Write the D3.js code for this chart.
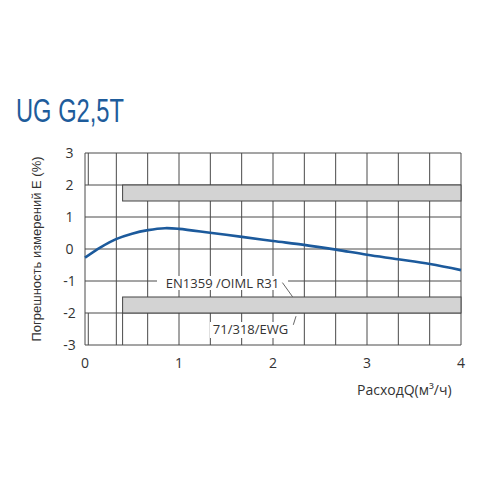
<!DOCTYPE html>
<html>
<head>
<meta charset="utf-8">
<script src="https://cdn.jsdelivr.net/npm/d3@7"></script>
<style>
  body { margin: 0; background: #fff; }
  text { font-family: "Open Sans", "DejaVu Sans", sans-serif; }
</style>
</head>
<body>
<div id="plot"></div>
<script>
// measured error curve of the meter
var flowQ = [0, 0.17, 0.33, 0.5, 0.67, 0.85, 1.0, 1.33, 1.67, 2.0, 2.33, 2.67, 3.0, 3.33, 3.67, 4.0];
var errorE = [-0.27, 0.06, 0.31, 0.48, 0.59, 0.65, 0.63, 0.51, 0.38, 0.25, 0.13, -0.02, -0.18, -0.32, -0.47, -0.66];

// axis ticks
var xTicks = [0, 1, 2, 3, 4];
var yTicks = [3, 2, 1, 0, -1, -2, -3];

// limits (tolerance bands)
var qMin = 0.035;
var qBand = 0.4;
var bandUpper = [1.5, 2];
var bandLower = [-2, -1.5];

var width = 500, height = 500;

var svg = d3.select("#plot").append("svg")
    .attr("width", width)
    .attr("height", height);

var x = d3.scaleLinear().domain([0, 4]).range([85, 461]);
var y = d3.scaleLinear().domain([-3, 3]).range([345, 153]);

var gridColor = "#4a4a4a";

// title
svg.append("text")
    .attr("x", 16)
    .attr("y", 121.5)
    .attr("font-size", 33)
    .style("font-family", "'Liberation Sans Narrow', 'Liberation Sans', sans-serif")
    .attr("textLength", 108)
    .attr("lengthAdjust", "spacingAndGlyphs")
    .attr("fill", "#1e5c9b")
    .text("UG G2,5T");

// vertical grid every 1/3
var gridQ = d3.range(0, 13).map(function(i) { return i / 3; });
svg.selectAll(".vgrid")
    .data(gridQ)
    .enter().append("line")
    .attr("class", "vgrid")
    .attr("x1", function(d) { return x(d); })
    .attr("x2", function(d) { return x(d); })
    .attr("y1", y(3))
    .attr("y2", y(-3))
    .attr("stroke", gridColor)
    .attr("stroke-width", 1);

// horizontal grid
svg.selectAll(".hgrid")
    .data(yTicks)
    .enter().append("line")
    .attr("class", "hgrid")
    .attr("x1", x(0))
    .attr("x2", x(4))
    .attr("y1", function(d) { return y(d); })
    .attr("y2", function(d) { return y(d); })
    .attr("stroke", gridColor)
    .attr("stroke-width", 1);

// Qmin lines
svg.append("line")
    .attr("x1", x(qMin)).attr("x2", x(qMin))
    .attr("y1", y(3)).attr("y2", y(2))
    .attr("stroke", gridColor);
svg.append("line")
    .attr("x1", x(qMin)).attr("x2", x(qMin))
    .attr("y1", y(-2)).attr("y2", y(-3))
    .attr("stroke", gridColor);
svg.append("line")
    .attr("x1", x(qBand)).attr("x2", x(qBand))
    .attr("y1", y(-2)).attr("y2", y(-3))
    .attr("stroke", gridColor);

// tolerance bands
[bandUpper, bandLower].forEach(function(b) {
    svg.append("rect")
        .attr("x", x(qBand))
        .attr("y", y(b[1]))
        .attr("width", x(4) - x(qBand))
        .attr("height", y(b[0]) - y(b[1]))
        .attr("fill", "#d3d3d3")
        .attr("stroke", "#444")
        .attr("stroke-width", 1);
});

// labels with white backing
svg.append("rect")
    .attr("x", 157).attr("y", 276)
    .attr("width", x(2.16) - 157).attr("height", 14)
    .attr("fill", "#fff");
svg.append("text")
    .attr("x", x(0.86))
    .attr("y", y(-1.23))
    .attr("font-size", 13)
    .attr("fill", "#333")
    .text("EN1359 /OIML R31");

svg.append("rect")
    .attr("x", 210).attr("y", 322)
    .attr("width", 80).attr("height", 16)
    .attr("fill", "#fff");
svg.append("text")
    .attr("x", x(1.36))
    .attr("y", y(-2.66))
    .attr("font-size", 13)
    .attr("fill", "#333")
    .text("71/318/EWG");

// leaders
svg.append("line")
    .attr("x1", x(2.10)).attr("y1", y(-1.05))
    .attr("x2", x(2.21)).attr("y2", y(-1.5))
    .attr("stroke", "#666");
svg.append("line")
    .attr("x1", x(2.216)).attr("y1", y(-2.37))
    .attr("x2", x(2.245)).attr("y2", y(-2.1))
    .attr("stroke", "#666");

// error curve
var line = d3.line()
    .x(function(d, i) { return x(flowQ[i]); })
    .y(function(d) { return y(d); })
    .curve(d3.curveCatmullRom.alpha(0.5));

svg.append("path")
    .datum(errorE)
    .attr("d", line)
    .attr("fill", "none")
    .attr("stroke", "#1c5a9c")
    .attr("stroke-width", 2.6);

// tick labels
svg.selectAll(".ylab")
    .data(yTicks)
    .enter().append("text")
    .attr("class", "ylab")
    .attr("x", 69.5)
    .attr("y", function(d) { return y(d); })
    .attr("dy", "0.35em")
    .attr("text-anchor", "middle")
    .attr("font-size", 14)
    .attr("fill", "#333")
    .text(function(d) { return d; });

svg.selectAll(".xlab")
    .data(xTicks)
    .enter().append("text")
    .attr("class", "xlab")
    .attr("x", function(d) { return x(d); })
    .attr("y", 363)
    .attr("dy", "0.35em")
    .attr("text-anchor", "middle")
    .attr("font-size", 14)
    .attr("fill", "#333")
    .text(function(d) { return d; });

// axis titles
svg.append("text")
    .attr("x", 357)
    .attr("y", 395)
    .attr("font-size", 14)
    .attr("fill", "#333")
    .text("РасходQ(м³/ч)");

svg.append("text")
    .attr("transform", "translate(36.5," + y(0) + ") rotate(-90)")
    .attr("text-anchor", "middle")
    .attr("dy", "0.35em")
    .attr("font-size", 13)
    .style("font-family", "'Liberation Sans', Arial, sans-serif")
    .attr("fill", "#333")
    .text("Погрешность измерений E (%)");
</script>
</body>
</html>
